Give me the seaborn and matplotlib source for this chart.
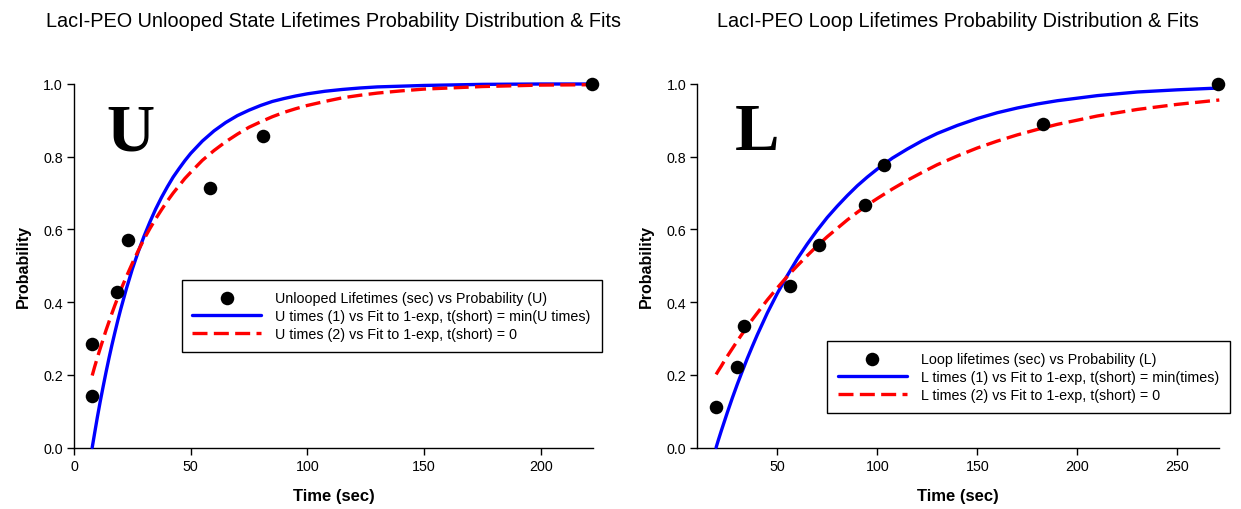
import numpy as np
import pandas as pd
import seaborn as sns
import matplotlib
matplotlib.use("Agg")
import matplotlib.pyplot as plt

# ---------------- data ----------------
# Unlooped (U) lifetimes
u_times = [7.8, 7.8, 18.3, 23.1, 58.3, 81.1, 222.0]
u_prob = [0.143, 0.286, 0.429, 0.571, 0.714, 0.857, 1.000]
# U fit curves
u_fit_t = [7.8, 8.8, 10, 11.25, 12.5, 13.75, 15, 16.25, 17.5, 18.75,
           20, 22.5, 25, 27.5, 30, 32.5, 35, 37.5, 40, 42.5,
           45, 47.5, 50, 55, 60, 65, 70, 75, 80, 85,
           90, 95, 100, 107.5, 115, 122.5, 130, 140, 150, 175,
           200, 222]
u_fit1_p = [0.0, 0.038, 0.083, 0.127, 0.168, 0.208, 0.246, 0.282, 0.316, 0.349,
            0.380, 0.438, 0.491, 0.538, 0.581, 0.620, 0.656, 0.688, 0.717, 0.744,
            0.767, 0.789, 0.809, 0.843, 0.871, 0.894, 0.913, 0.928, 0.941, 0.952,
            0.960, 0.967, 0.973, 0.980, 0.985, 0.989, 0.992, 0.994, 0.996, 0.999,
            1.000, 1.000]
u_fit2_p = [0.198, 0.221, 0.247, 0.273, 0.298, 0.323, 0.346, 0.369, 0.391, 0.412,
            0.433, 0.471, 0.507, 0.541, 0.573, 0.602, 0.629, 0.654, 0.678, 0.700,
            0.720, 0.740, 0.757, 0.790, 0.817, 0.841, 0.862, 0.881, 0.896, 0.910,
            0.922, 0.932, 0.941, 0.952, 0.962, 0.969, 0.975, 0.981, 0.986, 0.993,
            0.997, 0.998]

# Loop (L) lifetimes
l_times = [19.4, 29.9, 33.4, 56.5, 70.7, 93.7, 103.2, 182.9, 270.4]
l_prob = [0.111, 0.222, 0.333, 0.444, 0.556, 0.667, 0.778, 0.889, 1.000]
l_fit_t = [19.4, 20.5, 22, 23.5, 25, 27.5, 30, 32.5, 35, 37.5,
           40, 45, 50, 55, 60, 65, 70, 75, 80, 85,
           90, 95, 100, 107.5, 115, 122.5, 130, 140, 150, 160,
           170, 180, 190, 210, 230, 250, 271]
l_fit1_p = [0.0, 0.020, 0.046, 0.071, 0.096, 0.136, 0.174, 0.210, 0.245, 0.278,
            0.310, 0.370, 0.424, 0.473, 0.519, 0.560, 0.598, 0.633, 0.664, 0.693,
            0.720, 0.744, 0.766, 0.796, 0.821, 0.844, 0.864, 0.886, 0.905, 0.921,
            0.934, 0.945, 0.954, 0.968, 0.978, 0.984, 0.989]
l_fit2_p = [0.201, 0.211, 0.224, 0.238, 0.251, 0.272, 0.293, 0.313, 0.333, 0.352,
            0.370, 0.406, 0.439, 0.471, 0.500, 0.528, 0.555, 0.580, 0.603, 0.626,
            0.647, 0.667, 0.685, 0.711, 0.735, 0.757, 0.778, 0.802, 0.824, 0.843,
            0.860, 0.875, 0.889, 0.912, 0.930, 0.944, 0.956]

titles = ["LacI-PEO Unlooped State Lifetimes Probability Distribution & Fits",
          "LacI-PEO Loop Lifetimes Probability Distribution & Fits"]
u_labels = ["Unlooped Lifetimes (sec) vs Probability (U)",
            "U times (1) vs Fit to 1-exp, t(short) = min(U times)",
            "U times (2) vs Fit to 1-exp, t(short) = 0"]
l_labels = ["Loop lifetimes (sec) vs Probability (L)",
            "L times (1) vs Fit to 1-exp, t(short) = min(times)",
            "L times (2) vs Fit to 1-exp, t(short) = 0"]
y_ticks = [0.0, 0.2, 0.4, 0.6, 0.8, 1.0]
u_xticks = [0, 50, 100, 150, 200]
l_xticks = [50, 100, 150, 200, 250]

# ---------------- style ----------------
sns.set_theme(style="ticks")
plt.rcParams["font.family"] = ["Liberation Sans", "DejaVu Sans"]
plt.rcParams.update({
    "axes.linewidth": 1.0,
    "text.color": "black",
    "axes.labelcolor": "black",
    "axes.edgecolor": "black",
    "xtick.color": "black",
    "ytick.color": "black",
})

W, H = 1241, 510
fig = plt.figure(figsize=(W / 100, H / 100), dpi=100)
fig.patch.set_facecolor("white")

ax1 = fig.add_axes([74 / W, (H - 448.5) / H, 519 / W, 363.5 / H])
ax2 = fig.add_axes([697.3 / W, (H - 448.5) / H, 522 / W, 363.5 / H])

dash = (0, (4.5, 1.9))


def panel(ax, times, prob, ft, f1p, f2p, labels, xlim, xticks, letter, letter_x,
          leg_xy, title):
    sns.scatterplot(x=times, y=prob, ax=ax, color="black", s=95, edgecolor="black",
                    linewidth=0, label=labels[0], zorder=4, clip_on=False)
    sns.lineplot(x=ft, y=f1p, ax=ax, color="#0000FF", linewidth=2.4, label=labels[1],
                 zorder=3, clip_on=False)
    sns.lineplot(x=ft, y=f2p, ax=ax, color="#FF0000", linewidth=2.4, label=labels[2],
                 linestyle=dash, zorder=3, clip_on=False)
    ax.set_xlim(*xlim)
    ax.set_ylim(0, 1.0)
    ax.set_xticks(xticks)
    ax.set_yticks(y_ticks)
    ax.set_yticklabels([f"{v:.1f}" for v in y_ticks])
    ax.tick_params(axis="both", direction="out", length=5, width=1, labelsize=10.3,
                   pad=3, colors="black")
    for s in ["top", "right"]:
        ax.spines[s].set_visible(False)
    ax.set_facecolor("white")
    ax.set_xlabel("Time (sec)", fontsize=12, fontweight="bold", labelpad=11)
    ax.set_ylabel("Probability", fontsize=11.5, fontweight="bold", labelpad=9)
    ax.set_title(title, fontsize=14.3, pad=41.5, color="black")
    ax.text(letter_x, 0.821, letter, fontsize=48, fontweight="bold", color="black",
            family=["Liberation Serif", "DejaVu Serif"], ha="left", va="baseline")
    handles, labs = ax.get_legend_handles_labels()
    leg = ax.legend(handles, labs, loc="upper left",
                    bbox_to_anchor=(leg_xy[0] / W, (H - leg_xy[1]) / H),
                    bbox_transform=fig.transFigure, fontsize=10.3, frameon=True,
                    fancybox=False, framealpha=1, edgecolor="black",
                    handlelength=4.8, handletextpad=1.0, labelspacing=0.3,
                    borderpad=0.75, borderaxespad=0)
    leg.get_frame().set_linewidth(1.0)
    leg.set_zorder(10)


panel(ax1, u_times, u_prob, u_fit_t, u_fit1_p, u_fit2_p, u_labels,
      (0, 222.4), u_xticks, "U", 14.0, (181.7, 281), titles[0])
panel(ax2, l_times, l_prob, l_fit_t, l_fit1_p, l_fit2_p, l_labels,
      (10, 271), l_xticks, "L", 28.8, (827.3, 342), titles[1])

fig.savefig("out.png", dpi=100, facecolor="white")
